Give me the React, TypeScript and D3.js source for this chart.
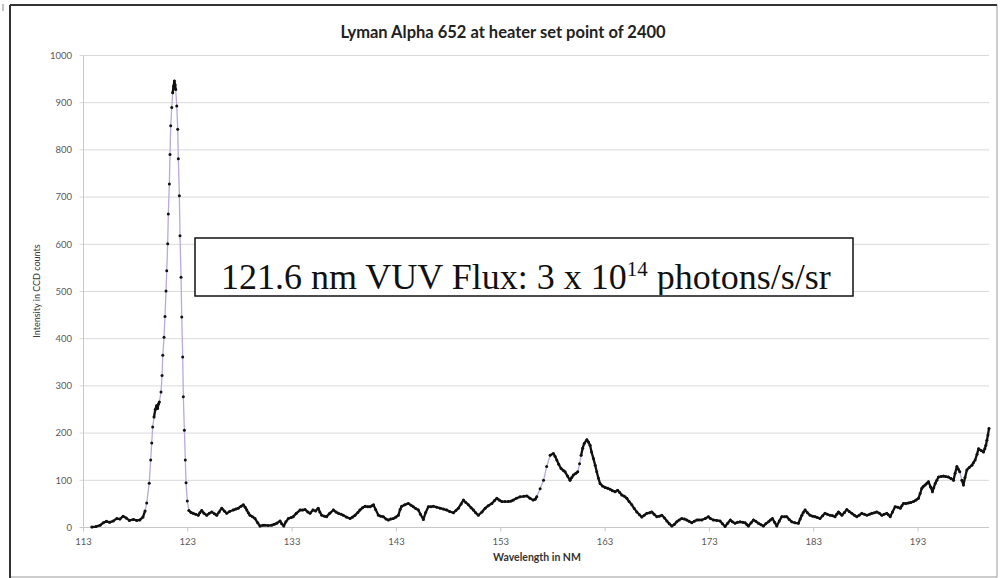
import React from "react";
import * as d3 from "d3";

const title = "Lyman Alpha 652 at heater set point of 2400";
const xAxisTitle = "Wavelength in NM";
const yAxisTitle = "Intensity in CCD counts";
const xTicks = [113, 123, 133, 143, 153, 163, 173, 183, 193];
const yTicks = [0, 100, 200, 300, 400, 500, 600, 700, 800, 900, 1000];

const wavelength = [
  113.8, 114.2, 114.6, 114.9, 115.2, 115.5, 115.86, 116.2, 116.5, 116.8, 117.1, 117.4, 117.8, 118.1, 118.4, 118.7, 118.9,
  119.06, 119.3, 119.44, 119.54, 119.63, 119.76, 119.88, 120.0, 120.1, 120.2, 120.27, 120.43, 120.53, 120.6, 120.72, 120.81,
  120.91, 120.98, 121.07, 121.13, 121.23, 121.29, 121.36, 121.46, 121.55, 121.63, 121.71, 121.78, 121.84, 121.94, 122.03,
  122.09, 122.19, 122.25, 122.35, 122.42, 122.51, 122.57, 122.67, 122.76, 122.83, 122.95,
  123.1, 123.3, 123.5, 123.75, 124.0, 124.15, 124.33, 124.55, 124.81, 125.05, 125.3, 125.55, 125.77, 126.0, 126.25, 126.5,
  126.73, 127.0, 127.36, 127.6, 127.84, 128.1, 128.32, 128.5, 128.65, 128.8, 128.96, 129.2, 129.44, 129.7, 129.92, 130.2,
  130.4, 130.7, 131.04, 131.3, 131.52, 131.84, 132.0, 132.2, 132.4, 132.64, 132.9, 133.1, 133.4, 133.76, 134.0, 134.24,
  134.5, 134.72, 135.0, 135.25, 135.5, 135.65, 135.84, 136.1, 136.3, 136.6, 136.95, 137.2, 137.43, 137.7, 137.9, 138.2,
  138.55, 138.8, 139.03, 139.3, 139.5, 139.75, 140.0, 140.25, 140.47, 140.65, 140.8, 141.0, 141.27, 141.5, 141.74, 142.0,
  142.22, 142.45, 142.7, 142.95, 143.18, 143.35, 143.5, 143.8, 144.14, 144.4, 144.62, 144.85, 145.1, 145.3, 145.58, 145.8,
  146.06, 146.3, 146.54, 146.85, 147.18, 147.5, 147.82, 148.1, 148.46, 148.7, 148.94, 149.2, 149.42, 149.65, 149.9, 150.15,
  150.37, 150.6, 150.85, 151.2, 151.5, 151.8, 152.14, 152.4, 152.62, 152.85, 153.1, 153.4, 153.73, 154.0, 154.2, 154.5,
  154.85, 155.2, 155.5, 155.8, 156.1, 156.3, 156.45, 156.77, 157.1, 157.4, 157.73, 158.04, 158.2, 158.37, 158.55, 158.78,
  159.0, 159.16, 159.4, 159.64, 159.8, 159.96, 160.2, 160.38, 160.55, 160.7, 160.85, 161.0, 161.25, 161.4, 161.56, 161.7,
  161.88, 162.05, 162.2, 162.35, 162.52, 162.75, 163.0, 163.25, 163.48, 163.7, 163.96, 164.2, 164.4, 164.6, 164.85, 165.08,
  165.3, 165.56, 165.8, 166.04, 166.3, 166.52, 166.75, 167.0, 167.25, 167.48, 167.7, 167.96, 168.2, 168.44, 168.7, 168.92,
  169.15, 169.4, 169.65, 169.87, 170.1, 170.35, 170.6, 170.83, 171.05, 171.31, 171.55, 171.8, 172.0, 172.27, 172.6, 172.9,
  173.1, 173.38, 173.7, 174.02, 174.25, 174.5, 174.75, 175.0, 175.2, 175.46, 175.7, 175.94, 176.2, 176.42, 176.6, 176.74,
  177.0, 177.22, 177.45, 177.7, 177.95, 178.18, 178.4, 178.66, 178.85, 179.04, 179.25, 179.46, 179.7, 179.94, 180.2, 180.42,
  180.65, 180.9, 181.2, 181.53, 181.7, 181.86, 182.0, 182.17, 182.4, 182.65, 182.9, 183.13, 183.35, 183.6, 183.85, 184.08,
  184.3, 184.56, 184.8, 185.04, 185.2, 185.37, 185.5, 185.7, 185.95, 186.17, 186.4, 186.65, 186.9, 187.13, 187.35, 187.6,
  187.85, 188.1, 188.35, 188.57, 188.8, 189.05, 189.3, 189.53, 189.75, 190.0, 190.15, 190.33, 190.55, 190.8, 191.05, 191.3,
  191.45, 191.6, 191.85, 192.08, 192.3, 192.56, 192.8, 193.04, 193.2, 193.36, 193.5, 193.68, 193.85, 194.0, 194.2, 194.38,
  194.5, 194.64, 194.8, 194.96, 195.2, 195.43, 195.65, 195.9, 196.15, 196.4, 196.55, 196.72, 196.85, 197.0, 197.2, 197.35,
  197.5, 197.68, 197.9, 198.16, 198.3, 198.47, 198.65, 198.8, 199.05, 199.27, 199.4, 199.5, 199.6, 199.7, 199.8,
];

const intensity = [
  1, 2, 5, 10, 13, 11, 14, 19, 18, 24, 20, 15, 17, 15, 16, 22, 35,
  52, 94, 143, 179, 213, 234, 250, 258, 252, 262, 266, 287, 322, 365, 403, 447,
  501, 544, 601, 664, 728, 790, 851, 890, 921, 935, 946, 938, 928, 893, 844,
  781, 703, 618, 530, 446, 361, 277, 206, 143, 95, 56,
  36, 32, 30, 28, 26, 31, 36, 30, 26, 30, 33, 29, 26, 33, 41, 35,
  30, 34, 37, 39, 41, 45, 48, 43, 37, 31, 26, 23, 19, 10, 3, 5,
  5, 4, 5, 7, 9, 14, 8, 3, 12, 19, 21, 23, 30, 37, 37, 38,
  33, 30, 37, 35, 41, 33, 26, 24, 23, 30, 37, 33, 30, 28, 26, 22,
  19, 22, 26, 32, 37, 42, 45, 44, 44, 46, 48, 38, 26, 24, 23, 18,
  16, 18, 19, 22, 26, 38, 45, 48, 51, 47, 44, 40, 37, 28, 17, 32,
  44, 44, 45, 43, 41, 39, 37, 34, 31, 36, 41, 50, 58, 53, 48, 42,
  37, 31, 26, 33, 41, 46, 51, 57, 62, 58, 55, 55, 55, 56, 58, 62,
  65, 66, 67, 62, 58, 60, 65, 82, 100, 129, 153, 157, 151, 143, 134, 125,
  121, 118, 109, 100, 106, 111, 115, 118, 135, 153, 168, 178, 186, 181, 174, 160,
  146, 132, 118, 105, 93, 88, 85, 83, 81, 78, 76, 79, 74, 69, 66, 62,
  55, 48, 40, 33, 27, 22, 26, 30, 31, 33, 28, 23, 24, 26, 20, 14,
  8, 3, 7, 12, 16, 19, 18, 16, 13, 10, 13, 16, 16, 16, 19, 23,
  19, 16, 15, 14, 8, 2, 9, 16, 12, 9, 11, 12, 11, 10, 6, 3,
  10, 16, 13, 9, 6, 3, 8, 12, 16, 19, 11, 3, 14, 23, 23, 23,
  17, 12, 10, 9, 18, 26, 32, 37, 31, 26, 24, 23, 21, 19, 25, 30,
  28, 26, 25, 23, 28, 33, 30, 26, 32, 38, 34, 30, 26, 23, 26, 30,
  28, 26, 28, 30, 31, 33, 30, 26, 28, 30, 27, 23, 33, 44, 43, 41,
  46, 51, 51, 52, 53, 55, 58, 62, 72, 83, 87, 90, 94, 97, 86, 76,
  84, 93, 100, 107, 108, 109, 108, 107, 104, 100, 115, 129, 124, 118, 100, 90,
  106, 122, 127, 132, 137, 143, 155, 167, 163, 160, 167, 174, 185, 196, 210,
];

const W = 1005;
const H = 578;
const plotLeft = 83.5;
const plotRight = 989;
const plotTop = 55.5;
const plotBottom = 527.5;
const labelFont = "Lato, 'Open Sans', 'Liberation Sans', sans-serif";

export default function App() {
  const x = d3.scaleLinear().domain([113, 199.8]).range([plotLeft, plotRight]);
  const y = d3.scaleLinear().domain([0, 1000]).range([plotBottom, plotTop]);

  const pts = wavelength.map((w, i) => [x(w), y(intensity[i])] as [number, number]);
  const line = d3.line<[number, number]>().x((d) => d[0]).y((d) => d[1]);
  const lavPath = line(pts) || "";

  // Dense runs of markers merge into a solid black trace
  const denseSegs: string[] = [];
  for (let i = 1; i < pts.length; i++) {
    const [x0, y0] = pts[i - 1];
    const [x1, y1] = pts[i];
    if (Math.hypot(x1 - x0, y1 - y0) < 8) {
      denseSegs.push(`M${x0},${y0}L${x1},${y1}`);
    }
  }

  return (
    <svg
      width={W}
      height={H}
      style={{ position: "absolute", left: 0, top: 0, background: "#fff" }}
    >
      <defs>
        <clipPath id="boxclip">
          <rect x={196} y={239} width={656} height={56} />
        </clipPath>
      </defs>
      <rect x={0} y={0} width={W} height={H} fill="#fff" />
      {/* outer frame */}
      <line x1={3} y1={4} x2={3} y2={11} stroke="#888" strokeWidth={1} />
      <rect x={10} y={5} width={987} height={572} fill="none" stroke="#9a9a9a" strokeWidth={1} />
      <line x1={10} y1={5} x2={997} y2={5} stroke="#333" strokeWidth={2} />
      <line x1={10} y1={5} x2={10} y2={578} stroke="#333" strokeWidth={2} />

      {/* title */}
      <text
        x={503}
        y={38}
        textAnchor="middle"
        fontFamily={labelFont}
        fontWeight="bold"
        fontSize={16.5}
        fill="#222"
      >
        {title}
      </text>

      {/* gridlines */}
      {yTicks.map((t) => (
        <line
          key={"g" + t}
          x1={plotLeft - 4}
          x2={plotRight}
          y1={y(t)}
          y2={y(t)}
          stroke={t === 0 ? "#c8c8c8" : "#d9d9d9"}
          strokeWidth={1}
        />
      ))}
      {/* y axis line */}
      <line x1={plotLeft} x2={plotLeft} y1={plotTop} y2={plotBottom} stroke="#c8c8c8" strokeWidth={1} />
      {/* x ticks */}
      {xTicks.map((t) => (
        <line key={"xt" + t} x1={x(t)} x2={x(t)} y1={plotBottom} y2={plotBottom + 4} stroke="#c8c8c8" />
      ))}

      {/* y tick labels */}
      {yTicks.map((t) => (
        <text
          key={"yl" + t}
          x={72}
          y={y(t)}
          dy="0.35em"
          textAnchor="end"
          fontFamily={labelFont}
          fontSize={9.5}
          fill="#595959"
        >
          {t}
        </text>
      ))}
      {/* x tick labels */}
      {xTicks.map((t) => (
        <text
          key={"xl" + t}
          x={x(t)}
          y={545}
          textAnchor="middle"
          fontFamily={labelFont}
          fontSize={9.5}
          fill="#595959"
        >
          {t}
        </text>
      ))}

      {/* axis titles */}
      <text
        x={537}
        y={561}
        textAnchor="middle"
        fontFamily={labelFont}
        fontWeight="bold"
        fontSize={10.5}
        fill="#333"
      >
        {xAxisTitle}
      </text>
      <text
        transform={`translate(40,291) rotate(-90)`}
        textAnchor="middle"
        fontFamily={labelFont}
        fontSize={9}
        fill="#333"
      >
        {yAxisTitle}
      </text>

      {/* series */}
      <path d={lavPath} fill="none" stroke="#b9a9dc" strokeWidth={1.3} />
      <path d={denseSegs.join("")} fill="none" stroke="#111" strokeWidth={2.3} strokeLinecap="round" />
      {pts.map((p, i) => (
        <circle key={"m" + i} cx={p[0]} cy={p[1]} r={1.5} fill="#111" />
      ))}

      {/* annotation box */}
      <rect x={195} y={238} width={658} height={58} fill="#fff" stroke="#111" strokeWidth={1.5} />
      <g clipPath="url(#boxclip)">
        <text
          x={221}
          y={289}
          fontFamily="'Liberation Serif', 'Times New Roman', serif"
          fontSize={36}
          fill="#111"
        >
          121.6 nm VUV Flux: 3 x 10
          <tspan fontSize={21} dy={-13}>14</tspan>
          <tspan dy={13}> photons/s/sr</tspan>
        </text>
      </g>
    </svg>
  );
}
